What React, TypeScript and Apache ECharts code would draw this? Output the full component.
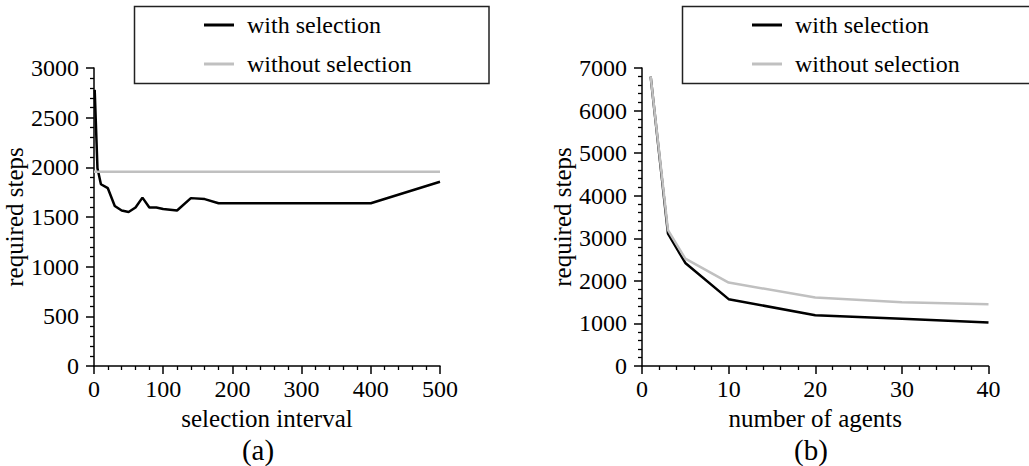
import React, { useEffect, useRef } from "react";
import * as echarts from "echarts";

const seriesNames = ["with selection", "without selection"];

// (a) selection interval vs required steps
const intervalWith: number[][] = [
  [1, 2780], [5, 1990], [10, 1830], [20, 1790], [30, 1610], [40, 1565],
  [50, 1550], [60, 1595], [70, 1695], [80, 1595], [90, 1595], [100, 1580],
  [120, 1565], [140, 1690], [160, 1680], [180, 1638], [400, 1638], [500, 1855],
];
const intervalWithout: number[][] = [[0, 1955], [500, 1955]];

// (b) number of agents vs required steps
const agentsWith: number[][] = [
  [1, 6800], [3, 3110], [5, 2420], [10, 1570], [20, 1190], [30, 1110], [40, 1020],
];
const agentsWithout: number[][] = [
  [1, 6800], [3, 3190], [5, 2520], [10, 1960], [20, 1610], [30, 1500], [40, 1450],
];

const panelLabels = ["(a)", "(b)"];
const xNames = ["selection interval", "number of agents"];
const yName = "required steps";

const FONT = "Times New Roman, Liberation Serif, serif";
const BLACK = "#000";
const GREY = "#c0c0c0";

function axisCommon() {
  return {
    axisLine: { show: true, lineStyle: { color: "#000", width: 1.5 } },
    axisTick: { show: true, inside: false, length: 8, lineStyle: { color: "#000", width: 1.5 } },
    minorTick: { show: true, splitNumber: 5, length: 4, lineStyle: { color: "#000", width: 1.3 } },
    splitLine: { show: false },
    minorSplitLine: { show: false },
    axisLabel: { color: "#000", fontFamily: FONT, fontSize: 24, formatter: (v: number) => String(v) },
    nameTextStyle: { color: "#000", fontFamily: FONT, fontSize: 25 },
  };
}

function legendFor(left: number) {
  return {
    left, top: 13, padding: 0, orient: "vertical", itemWidth: 30, itemHeight: 3, itemGap: 15,
    data: seriesNames.map((n) => ({ name: n, icon: "rect" })),
    textStyle: { fontFamily: FONT, fontSize: 24, lineHeight: 24, color: "#000", padding: [0, 0, 0, 8] },
  };
}

export default function App() {
  const ref = useRef<HTMLDivElement>(null);
  useEffect(() => {
    if (!ref.current) return;
    const chart = echarts.init(ref.current, undefined, { renderer: "svg" });
    const c = axisCommon();
    const option: any = {
      animation: false,
      backgroundColor: "#fff",
      textStyle: { fontFamily: FONT, color: "#000" },
      grid: [
        { left: 94, top: 68, width: 346, height: 298 },
        { left: 642, top: 68, width: 346.5, height: 298 },
      ],
      xAxis: [
        {
          ...c, type: "value", gridIndex: 0, min: 0, max: 500, interval: 100,
          name: xNames[0], nameLocation: "middle", nameGap: 37,
          axisLabel: { ...c.axisLabel, margin: 11 },
        },
        {
          ...c, type: "value", gridIndex: 1, min: 0, max: 40, interval: 10,
          name: xNames[1], nameLocation: "middle", nameGap: 37,
          axisLabel: { ...c.axisLabel, margin: 11 },
        },
      ],
      yAxis: [
        {
          ...c, type: "value", gridIndex: 0, min: 0, max: 3000, interval: 500,
          name: yName, nameLocation: "middle", nameGap: 58,
          axisLabel: { ...c.axisLabel, margin: 15 },
        },
        {
          ...c, type: "value", gridIndex: 1, min: 0, max: 7000, interval: 1000,
          name: yName, nameLocation: "middle", nameGap: 63,
          axisLabel: { ...c.axisLabel, margin: 15 },
        },
      ],
      legend: [legendFor(204), legendFor(752)],
      series: [
        {
          name: seriesNames[0], type: "line", xAxisIndex: 0, yAxisIndex: 0, data: intervalWith,
          symbol: "none", lineStyle: { color: BLACK, width: 2.5 }, itemStyle: { color: BLACK },
        },
        {
          name: seriesNames[1], type: "line", xAxisIndex: 0, yAxisIndex: 0, data: intervalWithout,
          symbol: "none", lineStyle: { color: GREY, width: 2.5 }, itemStyle: { color: GREY },
        },
        {
          name: seriesNames[0], type: "line", xAxisIndex: 1, yAxisIndex: 1, data: agentsWith,
          symbol: "none", lineStyle: { color: BLACK, width: 2.5 }, itemStyle: { color: BLACK },
        },
        {
          name: seriesNames[1], type: "line", xAxisIndex: 1, yAxisIndex: 1, data: agentsWithout,
          symbol: "none", lineStyle: { color: GREY, width: 2.5 }, itemStyle: { color: GREY },
        },
      ],
      graphic: [
        {
          type: "rect", shape: { x: 134.5, y: 6.5, width: 354.5, height: 77 },
          style: { fill: "none", stroke: "#222", lineWidth: 1.5 }, silent: true,
        },
        {
          type: "rect", shape: { x: 682.5, y: 6.5, width: 360, height: 77 },
          style: { fill: "none", stroke: "#222", lineWidth: 1.5 }, silent: true,
        },
        {
          type: "text", x: 258, y: 450,
          style: { text: panelLabels[0], fontFamily: FONT, fontSize: 29, fill: "#000", textAlign: "center", textVerticalAlign: "middle" },
        },
        {
          type: "text", x: 811, y: 450,
          style: { text: panelLabels[1], fontFamily: FONT, fontSize: 29, fill: "#000", textAlign: "center", textVerticalAlign: "middle" },
        },
      ],
    };
    chart.setOption(option);
    return () => chart.dispose();
  }, []);
  return (
    <div
      ref={ref}
      style={{ position: "fixed", left: 0, top: 0, width: 1029, height: 466, background: "#fff" }}
    />
  );
}
